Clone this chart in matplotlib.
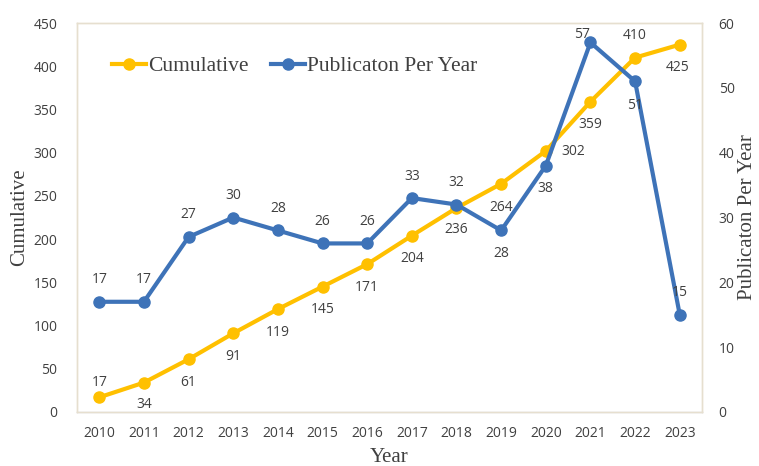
import matplotlib.pyplot as plt

years = [2010, 2011, 2012, 2013, 2014, 2015, 2016, 2017, 2018, 2019, 2020, 2021, 2022, 2023]
cumulative = [17, 34, 61, 91, 119, 145, 171, 204, 236, 264, 302, 359, 410, 425]
per_year = [17, 17, 27, 30, 28, 26, 26, 33, 32, 28, 38, 57, 51, 15]

# label offsets in pixels (dx, dy)
cum_off = [(0, 15), (0, -22), (0, -23), (0, -23), (0, -23), (0, -23), (0, -23),
           (0, -23), (0, -22), (0, -24), (27, -1), (0, -23), (0, 22), (-2, -23)]
py_off = [(0, 22), (0, 22), (0, 22), (0, 22), (0, 22), (0, 22), (0, 22),
          (0, 22), (0, 22), (0, -23), (0, -23), (-8, 8), (0, -24), (0, 22)]

orange = '#FFC000'
blue = '#3E73B8'
txt = '#404040'
tick_font = 'Open Sans'
serif = 'Liberation Serif'

fig = plt.figure(figsize=(7.59, 4.66), dpi=100)
ax = fig.add_axes([0.1014, 0.1159, 0.8236, 0.8347])
ax2 = ax.twinx()

x = list(range(len(years)))
l1, = ax.plot(x, cumulative, color=orange, lw=3, marker='o', ms=8, label='Cumulative', zorder=3)
l2, = ax2.plot(x, per_year, color=blue, lw=3, marker='o', ms=8, label='Publicaton Per Year', zorder=3)

ax.set_xlim(-0.5, len(years) - 0.5)
ax.set_ylim(0, 450)
ax.set_yticks(range(0, 451, 50))
ax2.set_ylim(0, 60)
ax2.set_yticks(range(0, 61, 10))
ax.set_xticks(x)
ax.set_xticklabels([str(y) for y in years])

for a in (ax, ax2):
    a.tick_params(length=0, labelsize=10, labelcolor=txt, pad=6)
    for lab in a.get_xticklabels() + a.get_yticklabels():
        lab.set_fontfamily(tick_font)
    for s in a.spines.values():
        s.set_color('#E6DFCF')
        s.set_linewidth(1)
ax.tick_params(axis='x', pad=10)
ax.tick_params(axis='y', pad=14)
ax2.tick_params(axis='y', pad=12)
ax.spines['bottom'].set_color('#D0D0D0')

xl = ax.set_xlabel('Year', fontfamily=serif, fontsize=15, color=txt)
yl = ax.set_ylabel('Cumulative', fontfamily=serif, fontsize=15, color=txt)
yr = ax2.set_ylabel('Publicaton Per Year', fontfamily=serif, fontsize=15, color=txt)
for lab in (xl, yl, yr):
    lab.set_va('center')
ax.xaxis.set_label_coords(0.5, -0.116)
ax.yaxis.set_label_coords(-0.091, 0.5)
ax2.yaxis.set_label_coords(1.073, 0.5)

for i in x:
    ax.annotate(str(cumulative[i]), (i, cumulative[i]), xytext=cum_off[i], textcoords='offset pixels',
                ha='center', va='center', fontsize=10, color=txt, fontfamily=tick_font, zorder=5)
    ax2.annotate(str(per_year[i]), (i, per_year[i]), xytext=py_off[i], textcoords='offset pixels',
                 ha='center', va='center', fontsize=10, color=txt, fontfamily=tick_font, zorder=5)

leg = ax2.legend([l1, l2], ['Cumulative', 'Publicaton Per Year'], loc='upper left',
                 bbox_to_anchor=(0.025, 0.965), frameon=False, ncol=2, handlelength=1.6,
                 handletextpad=0.1, columnspacing=1.0, prop={'family': serif, 'size': 15.5})
for t in leg.get_texts():
    t.set_color(txt)

fig.savefig('out.png', dpi=100)
